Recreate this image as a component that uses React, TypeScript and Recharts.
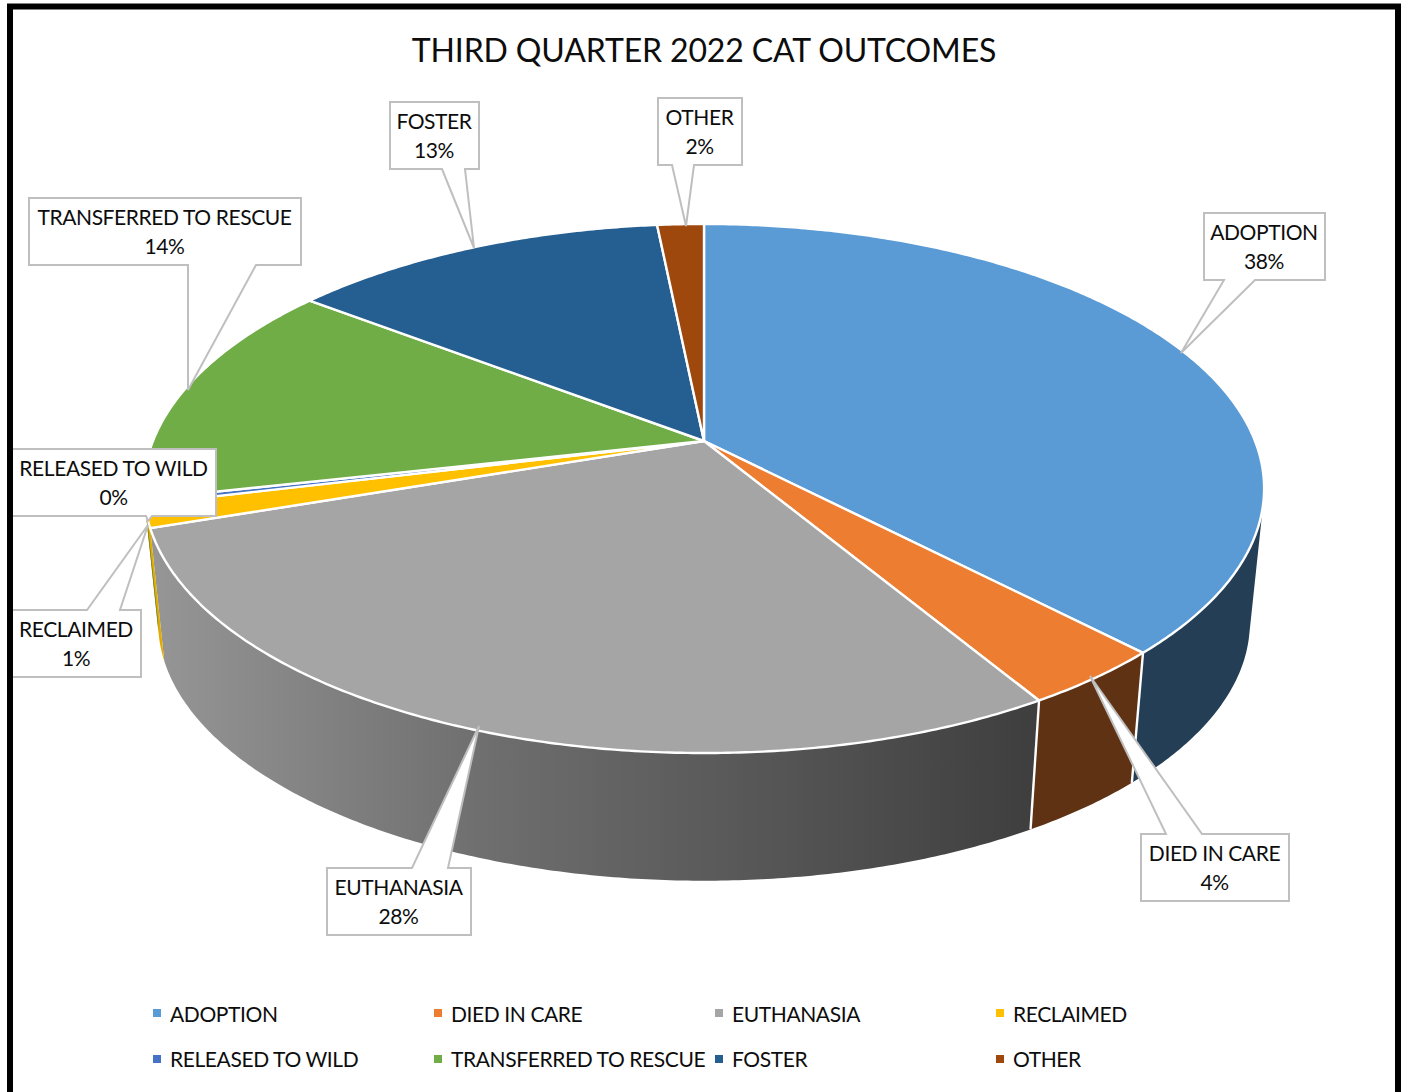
import React from 'react';
import { PieChart, Pie, Legend } from 'recharts';

const categories = [
  'ADOPTION',
  'DIED IN CARE',
  'EUTHANASIA',
  'RECLAIMED',
  'RELEASED TO WILD',
  'TRANSFERRED TO RESCUE',
  'FOSTER',
  'OTHER',
];
const shares = [37.8, 3.6, 28.4, 1.4, 0.3, 13.9, 13.0, 1.6];
const faceColors = ['#5b9bd5', '#ed7d31', '#a5a5a5', '#ffc000', '#4472c4', '#70ad47', '#255e91', '#9e480e'];
const wallColors = ['#243f55', '#5f3214', 'url(#euthanasiaWall)', '#e3ab00', '#2f5597', '#4e7a31', '#1a4266', '#6e320a'];

const chartData = categories.map((name, i) => ({
  name,
  value: shares[i],
  fill: faceColors[i],
  wall: wallColors[i],
}));

// callout boxes: x, y, right, bottom, wedge base on the box edge, wedge tip
const callouts: Record<string, number[]> = {
  ADOPTION: [1204, 213, 1325, 280, 1224, 1255, 1181, 353],
  'DIED IN CARE': [1141, 834, 1289, 901, 1166, 1202, 1090, 676],
  EUTHANASIA: [327, 868, 471, 935, 412, 448, 479, 726],
  RECLAIMED: [8, 610, 141, 677, 87, 120, 148, 525],
  'RELEASED TO WILD': [8, 449, 216, 516, 146, 152, 148, 521],
  'TRANSFERRED TO RESCUE': [29, 198, 301, 265, 188, 256, 188, 390],
  FOSTER: [390, 102, 479, 169, 442, 465, 474, 248],
  OTHER: [658, 98, 742, 165, 672, 694, 686, 226],
};

const FONT = 'Lato, sans-serif';
const TILT = 0.1796; // perspective of the pie's disc
const TOP_DISC = { a: 551, b: 256, dy: 0 };
const BOTTOM_DISC = { a: 537, b: 250, dy: 135 };
// the wall only faces the viewer between these angles (clockwise from 12 o'clock)
const WALL_FROM = (Math.acos(-TILT) * 180) / Math.PI;
const WALL_TO = 360 - WALL_FROM;

function project(deg: number, disc: typeof TOP_DISC, cx: number, cy: number) {
  const t = (deg * Math.PI) / 180;
  const w = 1 + TILT * Math.cos(t);
  return [cx + (disc.a * Math.sin(t)) / w, cy + disc.dy - (disc.b * Math.cos(t)) / w];
}

function sweep(from: number, to: number) {
  const out: number[] = [];
  const steps = Math.max(2, Math.ceil((to - from) / 0.5));
  for (let i = 0; i <= steps; i++) out.push(from + ((to - from) * i) / steps);
  return out;
}

function TopFace(props: any) {
  const { cx, cy, startAngle, endAngle, fill } = props;
  const pts = sweep(90 - startAngle, 90 - endAngle).map((d) => project(d, TOP_DISC, cx, cy));
  const d = `M${cx},${cy}L` + pts.map((p) => p.join(',')).join('L') + 'Z';
  return <path d={d} fill={fill} stroke="#fff" strokeWidth={2.4} strokeLinejoin="round" />;
}

function Wall(props: any) {
  const { cx, cy, startAngle, endAngle, payload } = props;
  const from = Math.max(90 - startAngle, WALL_FROM);
  const to = Math.min(90 - endAngle, WALL_TO);
  if (to <= from) return <g />;
  const angles = sweep(from, to);
  let d = '';
  for (let i = 0; i < angles.length - 1; i++) {
    const q = [
      project(angles[i], TOP_DISC, cx, cy),
      project(angles[i + 1], TOP_DISC, cx, cy),
      project(angles[i + 1], BOTTOM_DISC, cx, cy),
      project(angles[i], BOTTOM_DISC, cx, cy),
    ];
    let area = 0;
    q.forEach((p, j) => {
      const n = q[(j + 1) % 4];
      area += p[0] * n[1] - n[0] * p[1];
    });
    if (area < 0) q.reverse();
    d += 'M' + q.map((p) => p.join(',')).join('L') + 'Z';
  }
  const edge = (deg: number) => {
    const a = project(deg, TOP_DISC, cx, cy);
    const b = project(deg, BOTTOM_DISC, cx, cy);
    return `M${a.join(',')}L${b.join(',')}`;
  };
  // white seams only on the right-hand side of the front, the left side has none
  let edges = '';
  if (from === 90 - startAngle && from < 180) edges += edge(from);
  return (
    <g>
      <path d={d} fill={payload.wall} />
      {edges && <path d={edges} stroke="#fff" strokeWidth={2.4} fill="none" />}
    </g>
  );
}

function Callout(props: any) {
  const { name, percent } = props;
  const [x, y, r, b, b1, b2, tx, ty] = callouts[name];
  const above = ty < y;
  const outline = above
    ? `M${x},${y}L${b1},${y}L${tx},${ty}L${b2},${y}L${r},${y}L${r},${b}L${x},${b}Z`
    : `M${x},${y}L${r},${y}L${r},${b}L${b2},${b}L${tx},${ty}L${b1},${b}L${x},${b}Z`;
  const mid = name === 'RECLAIMED' || name === 'RELEASED TO WILD' ? (11 + r) / 2 : (x + r) / 2 - 0.5;
  const textProps = { x: mid, textAnchor: 'middle' as const, fontFamily: FONT, fontSize: 21, letterSpacing: -0.4, fill: '#0d0d0d' };
  return (
    <g>
      <path d={outline} fill="#fff" stroke="#bfbfbf" strokeWidth={2} />
      <text {...textProps} y={y + 27}>
        {name}
      </text>
      <text {...textProps} y={y + 56}>
        {Math.round(percent * 100)}%
      </text>
    </g>
  );
}

function LegendGrid({ payload }: any) {
  // both Pie series report their slices, keep each category once
  const items = (payload || []).filter(
    (item: any, i: number, all: any[]) => all.findIndex((o) => o.value === item.value) === i,
  );
  return (
    <div style={{ display: 'grid', gridTemplateColumns: 'repeat(4, 281px)', gridAutoRows: '45.5px' }}>
      {items.map((item: any) => (
        <div key={item.value} style={{ display: 'flex', alignItems: 'center', height: 30 }}>
          <span style={{ width: 8, height: 8, background: item.color, marginRight: 9 }} />
          <span style={{ fontFamily: FONT, fontSize: 21, letterSpacing: -0.4, color: '#0d0d0d', whiteSpace: 'nowrap' }}>{item.value}</span>
        </div>
      ))}
    </div>
  );
}

export default function App() {
  return (
    <div style={{ position: 'absolute', left: 0, top: 0, width: 1406, height: 1092, background: '#fff', overflow: 'hidden' }}>
      <PieChart width={1406} height={1092} margin={{ top: 0, right: 0, bottom: 0, left: 0 }}>
        <defs>
          <linearGradient id="euthanasiaWall" gradientUnits="userSpaceOnUse" x1="150" y1="0" x2="1040" y2="0">
            <stop offset="0" stopColor="#969696" />
            <stop offset="0.37" stopColor="#6f6f6f" />
            <stop offset="1" stopColor="#3e3e3e" />
          </linearGradient>
        </defs>
        <text x={704} y={62} textAnchor="middle" fontFamily={FONT} fontSize={32} letterSpacing={-0.13} fill="#0d0d0d">
          THIRD QUARTER 2022 CAT OUTCOMES
        </text>
        <Pie
          data={chartData}
          dataKey="value"
          nameKey="name"
          cx={704}
          cy={441}
          outerRadius={300}
          startAngle={90}
          endAngle={-270}
          legendType="none"
          shape={(p: any) => <Wall {...p} />}
          isAnimationActive={false}
        />
        <Pie
          data={chartData}
          dataKey="value"
          nameKey="name"
          cx={704}
          cy={441}
          outerRadius={300}
          startAngle={90}
          endAngle={-270}
          shape={(p: any) => <TopFace {...p} />}
          label={(p: any) => <Callout {...p} />}
          labelLine={false}
          isAnimationActive={false}
        />
        <Legend
          itemSorter={null}
          content={(p: any) => <LegendGrid {...p} />}
          wrapperStyle={{ left: 153, top: 998, width: 1180, bottom: 'auto' }}
        />
      </PieChart>
      <div
        style={{
          position: 'absolute',
          left: 7,
          top: 4,
          width: 1382,
          height: 1087,
          borderLeft: '6px solid #000',
          borderRight: '6px solid #000',
          borderTop: '5px solid #000',
          borderBottom: '1px solid #808080',
          boxShadow: '0 -1px #808080, inset 0 1px #808080',
          pointerEvents: 'none',
        }}
      />
    </div>
  );
}
